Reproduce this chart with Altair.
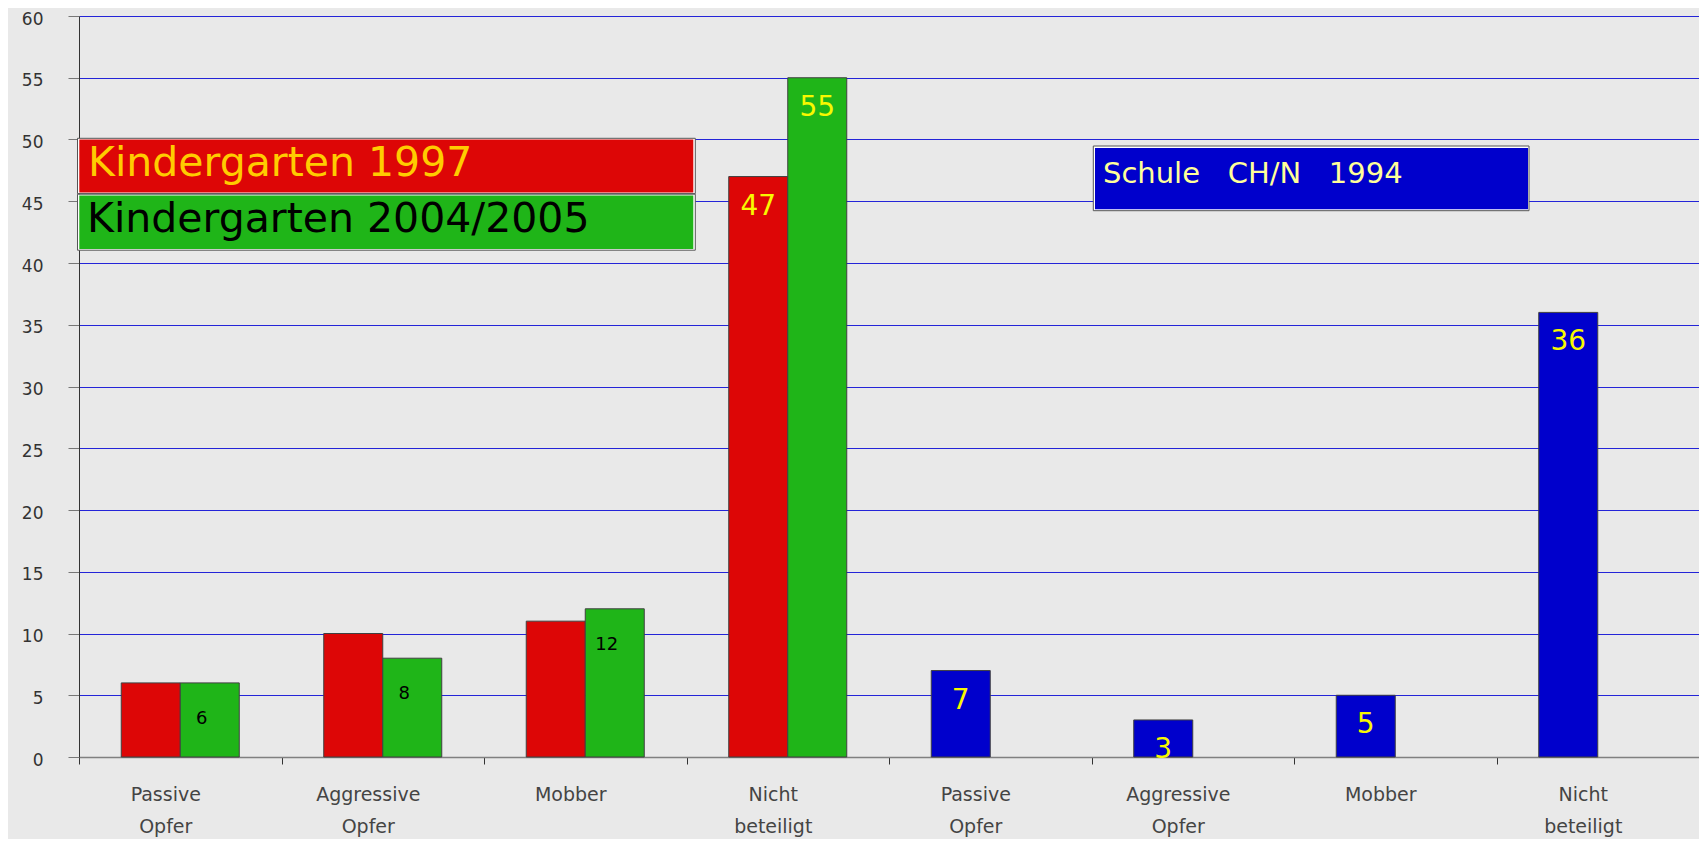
import altair as alt
import pandas as pd

# ---------------- data ----------------
categories = ["Passive Opfer", "Aggressive Opfer", "Mobber", "Nicht beteiligt"]
series = ["Kindergarten 1997", "Kindergarten 2004/2005", "Schule CH/N 1994"]
kg_1997 = [6, 10, 11, 47]
kg_2004 = [6, 8, 12, 55]
schule_1994 = [7, 3, 5, 36]
show_1997 = [False, False, False, True]
y_ticks = [0, 5, 10, 15, 20, 25, 30, 35, 40, 45, 50, 55, 60]
colors = ["#dd0606", "#1fb518", "#0000cc"]
box_title = "Schule\u00a0\u00a0 CH/N\u00a0\u00a0 1994"

rows = []
for i, c in enumerate(categories):
    rows.append(dict(key=c + "|K", series=series[0], slot="a", value=kg_1997[i],
                     label=str(kg_1997[i]) if show_1997[i] else ""))
    rows.append(dict(key=c + "|K", series=series[1], slot="b", value=kg_2004[i],
                     label=str(kg_2004[i])))
for i, c in enumerate(categories):
    rows.append(dict(key=c + "|S", series=series[2], slot="a", value=schule_1994[i],
                     label=str(schule_1994[i])))
df = pd.DataFrame(rows)
df["dark"] = (df["series"] == series[1]) & (df["value"] < 20)
keys = [c + "|K" for c in categories] + [c + "|S" for c in categories]

FONT = "DejaVu Sans"
W, H = 1620, 741

x_enc = alt.X(
    "key:N",
    sort=keys,
    scale=alt.Scale(domain=keys, paddingInner=0, paddingOuter=0),
    axis=alt.Axis(
        title=None,
        labelAngle=0,
        labelExpr="isValid(datum.value) ? split(split(datum.value, '|')[0], ' ') : ''",
        labelFont=FONT,
        labelFontSize=19,
        labelColor="#444444",
        labelLineHeight=32,
        labelPadding=21,
        labelOffset=-15,
        tickBand="extent",
        tickSize=7,
        tickColor="#333333",
        domainColor="#808080",
        domainWidth=1.5,
        grid=False,
    ),
)
xo_enc = alt.XOffset(
    "slot:N",
    scale=alt.Scale(domain=["a", "b"], paddingInner=0, paddingOuter=0.716),
)
y_enc = alt.Y(
    "value:Q",
    scale=alt.Scale(domain=[0, 60], nice=False),
    axis=alt.Axis(
        title=None,
        values=y_ticks,
        labelFont=FONT,
        labelFontSize=17,
        labelColor="#333333",
        labelPadding=25,
        labelOffset=3,
        tickSize=11,
        tickColor="#777777",
        domainColor="#333333",
        domainWidth=1,
        grid=True,
        gridColor=alt.condition("datum.value == 0", alt.value("transparent"), alt.value("#2424d8")),
        gridWidth=1,
    ),
)

base = alt.Chart(df)

bars = base.mark_bar(stroke="#404040", strokeWidth=1).encode(
    x=x_enc,
    xOffset=xo_enc,
    y=y_enc,
    color=alt.Color("series:N", scale=alt.Scale(domain=series, range=colors), legend=None),
)

dark_labels = base.transform_filter("datum.label != '' && datum.dark").mark_text(
    font=FONT, fontSize=18, color="#000000", baseline="middle", dy=36, dx=-8
).encode(x=alt.X("key:N", sort=keys), xOffset="slot:N", y="value:Q", text="label:N")

light_labels = base.transform_filter("datum.label != '' && !datum.dark").mark_text(
    font=FONT, fontSize=28, color="#f8f800", baseline="middle", dy=30
).encode(x=alt.X("key:N", sort=keys), xOffset="slot:N", y="value:Q", text="label:N")

# ---------------- legend / annotation boxes ----------------
one = pd.DataFrame({"t": [series[0]]})
two = pd.DataFrame({"t": [series[1]]})
three = pd.DataFrame({"t": [box_title]})


def box(data, x1, x2, y1, y2, fill, stroke=None):
    kw = dict(fill=fill)
    if stroke:
        kw.update(stroke=stroke, strokeWidth=1)
    return alt.Chart(data).mark_rect(**kw).encode(
        x=alt.value(x1), x2=alt.value(x2), y=alt.value(y1), y2=alt.value(y2)
    )


red_outer = box(one, -1.5, 616.3, 122.3, 177.6, "#ffffff", "#555555")
red_inner = box(one, 0.3, 614.3, 123.5, 176.6, colors[0])
green_outer = box(two, -1.5, 616.3, 178.2, 234.2, "#ffffff", "#555555")
green_inner = box(two, 0.3, 614.3, 179.5, 233.0, colors[1])
blue_outer = box(three, 1014.3, 1450.0, 130.0, 194.7, "#ffffff", "#555555")
blue_inner = box(three, 1016.0, 1449.0, 132.0, 193.3, colors[2])

red_text = alt.Chart(one).mark_text(
    align="left", baseline="alphabetic", font=FONT, fontSize=41, color="#ffcc00"
).encode(x=alt.value(9), y=alt.value(159.7), text="t:N")
green_text = alt.Chart(two).mark_text(
    align="left", baseline="alphabetic", font=FONT, fontSize=41, color="#000000"
).encode(x=alt.value(8), y=alt.value(215.7), text="t:N")
blue_text = alt.Chart(three).mark_text(
    align="left", baseline="alphabetic", font=FONT, fontSize=29, color="#ffff99"
).encode(x=alt.value(1024), y=alt.value(167.3), text="t:N")

chart = alt.layer(
    bars, dark_labels, light_labels,
    red_outer, red_inner, green_outer, green_inner, blue_outer, blue_inner,
    red_text, green_text, blue_text,
).properties(
    width=W,
    height=H,
    padding={"left": 71, "top": 8, "right": 0, "bottom": 82},
    autosize=alt.AutoSizeParams(type="none"),
).configure(
    background="#e9e9e9"
).configure_view(
    stroke=None
)

chart.save("out.html", embed_options={"renderer": "svg", "actions": False})
